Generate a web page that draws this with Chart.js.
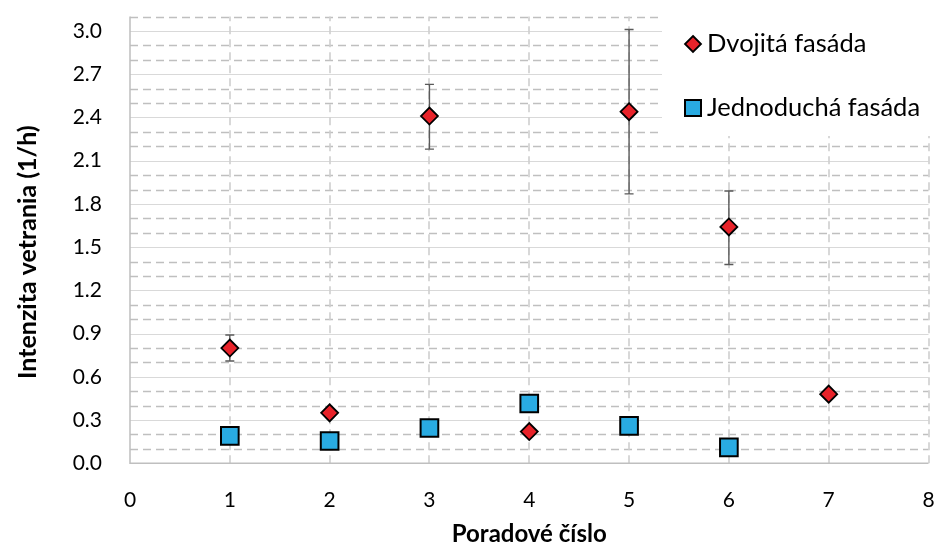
<!DOCTYPE html>
<html>
<head>
<meta charset="utf-8">
<script src="https://cdn.jsdelivr.net/npm/chart.js@4.4.1/dist/chart.umd.min.js"></script>
<style>
  html, body { margin: 0; padding: 0; background: #ffffff; overflow: hidden; }
  #wrap { width: 935px; height: 551px; overflow: hidden; }
</style>
</head>
<body>
<div id="wrap"><canvas id="c" width="943" height="551"></canvas></div>
<script>
// Measured ventilation rates (1/h) by serial number
const doublePositions = [1, 2, 3, 4, 5, 6, 7];
const doubleFacade    = [0.80, 0.35, 2.41, 0.22, 2.44, 1.64, 0.48];
const doubleLow       = [0.71, null, 2.18, 0.20, 1.87, 1.38, null];
const doubleHigh      = [0.89, null, 2.63, 0.245, 3.01, 1.89, null];

const singlePositions = [1, 2, 3, 4, 5, 6];
const singleFacade    = [0.19, 0.155, 0.245, 0.415, 0.26, 0.11];

const seriesLabels = ['Dvojitá fasáda', 'Jednoduchá fasáda'];
const xTitle = 'Poradové číslo';
const yTitle = 'Intenzita vetrania (1/h)';

const FONT = 'Lato, "Open Sans", sans-serif';
const RED = '#E8232A';
const BLUE = '#29ABE2';

const toPoints = (xs, ys) => xs.map((x, i) => ({ x: x, y: ys[i] }));

// Background grid: solid major lines every 0.3, dashed minor lines every 0.1,
// dashed verticals on each integer position
const gridPlugin = {
  id: 'gridPlugin',
  beforeDatasetsDraw(chart) {
    const { ctx, chartArea: a, scales: { x, y } } = chart;
    ctx.save();
    for (let k = 1; k <= 31; k++) {
      const v = k / 10;
      const py = Math.round(y.getPixelForValue(v)) + 0.5;
      if (k % 3 === 0) {
        ctx.setLineDash([]);
        ctx.strokeStyle = '#D9D9D9';
        ctx.lineWidth = 1.2;
      } else {
        ctx.setLineDash([8, 5]);
        ctx.strokeStyle = '#BFBFBF';
        ctx.lineWidth = 1.6;
      }
      ctx.beginPath();
      ctx.moveTo(a.left, py);
      ctx.lineTo(a.right, py);
      ctx.stroke();
    }
    ctx.setLineDash([8, 5]);
    ctx.strokeStyle = '#CFCFCF';
    ctx.lineWidth = 1.6;
    for (let k = 1; k <= 8; k++) {
      const px = Math.round(x.getPixelForValue(k));
      ctx.beginPath();
      ctx.moveTo(px, a.bottom);
      ctx.lineTo(px, a.top);
      ctx.stroke();
    }
    // axis lines
    ctx.setLineDash([]);
    ctx.strokeStyle = '#BFBFBF';
    ctx.lineWidth = 1.5;
    ctx.beginPath();
    ctx.moveTo(a.left, a.top);
    ctx.lineTo(a.left, a.bottom);
    ctx.lineTo(a.right, a.bottom);
    ctx.stroke();

    // error bars for the double facade series
    ctx.strokeStyle = '#5A5A5A';
    ctx.lineWidth = 1.4;
    doublePositions.forEach((p, i) => {
      if (doubleLow[i] == null) return;
      const px = x.getPixelForValue(p);
      const y1 = y.getPixelForValue(doubleLow[i]);
      const y2 = y.getPixelForValue(doubleHigh[i]);
      ctx.beginPath();
      ctx.moveTo(px, y1); ctx.lineTo(px, y2);
      ctx.moveTo(px - 4.5, y1); ctx.lineTo(px + 4.5, y1);
      ctx.moveTo(px - 4.5, y2); ctx.lineTo(px + 4.5, y2);
      ctx.stroke();
    });
    ctx.restore();
  }
};

// Legend panel in the upper right corner of the plot
const legendPlugin = {
  id: 'legendPlugin',
  afterDatasetsDraw(chart) {
    const { ctx } = chart;
    ctx.save();
    ctx.fillStyle = '#ffffff';
    ctx.fillRect(662, 8, 281, 128);
    const rows = [
      { y: 44, style: 'diamond', color: RED, label: chart.data.datasets[0].label },
      { y: 108, style: 'square', color: BLUE, label: chart.data.datasets[1].label }
    ];
    rows.forEach(r => {
      const cx = 693;
      ctx.beginPath();
      if (r.style === 'diamond') {
        ctx.moveTo(cx, r.y - 8); ctx.lineTo(cx + 8, r.y);
        ctx.lineTo(cx, r.y + 8); ctx.lineTo(cx - 8, r.y);
        ctx.closePath();
        ctx.lineWidth = 1.8;
      } else {
        ctx.rect(cx - 8, r.y - 8, 16, 16);
        ctx.lineWidth = 2;
      }
      ctx.fillStyle = r.color;
      ctx.fill();
      ctx.strokeStyle = '#000';
      ctx.stroke();
      ctx.fillStyle = '#000';
      ctx.font = '25.5px ' + FONT;
      ctx.textBaseline = 'middle';
      ctx.textAlign = 'left';
      ctx.fillText(r.label, 707, r.y);
    });
    ctx.restore();
  }
};

// keep the plot box fixed: no extra room reserved for overhanging tick labels
function fixBox(size, key) {
  return function (s) {
    s[key] = size;
    s.paddingTop = 0; s.paddingBottom = 0; s.paddingLeft = 0; s.paddingRight = 0;
  };
}

new Chart(document.getElementById('c'), {
  type: 'scatter',
  data: {
    datasets: [
      {
        label: seriesLabels[0],
        data: toPoints(doublePositions, doubleFacade),
        pointStyle: 'rectRot',
        pointRadius: 8.5,
        pointHoverRadius: 8.5,
        backgroundColor: RED,
        borderColor: '#000',
        borderWidth: 1.8
      },
      {
        label: seriesLabels[1],
        data: toPoints(singlePositions, singleFacade),
        pointStyle: 'rect',
        pointRadius: 12.5,
        pointHoverRadius: 12.5,
        backgroundColor: BLUE,
        borderColor: '#000',
        borderWidth: 2
      }
    ]
  },
  options: {
    responsive: false,
    animation: false,
    devicePixelRatio: 1,
    layout: { padding: { top: 16.6, right: 0, bottom: 0, left: 13 } },
    plugins: { legend: { display: false }, tooltip: { enabled: false } },
    scales: {
      x: {
        type: 'linear',
        min: 0, max: 8,
        grid: { display: false, drawTicks: false },
        border: { display: false },
        ticks: { stepSize: 1, padding: 24, color: '#000', font: { family: FONT, size: 21 } },
        title: { display: true, text: xTitle, color: '#000', padding: { top: 0, bottom: 2 }, font: { family: FONT, size: 24, weight: 'bold' } },
        afterFit: fixBox(87.7, 'height')
      },
      y: {
        type: 'linear',
        min: 0, max: 3.1,
        grid: { display: false, drawTicks: false },
        border: { display: false },
        ticks: { stepSize: 0.3, includeBounds: false, padding: 28, color: '#000',
                 font: { family: FONT, size: 21 },
                 callback: v => v.toFixed(1) },
        title: { display: true, text: yTitle + '\u00A0\u00A0\u00A0\u00A0', color: '#000', padding: { top: 0, bottom: 0 }, font: { family: FONT, size: 25, weight: 'bold' } },
        afterFit: fixBox(117, 'width')
      }
    }
  },
  plugins: [gridPlugin, legendPlugin]
});
</script>
</body>
</html>
